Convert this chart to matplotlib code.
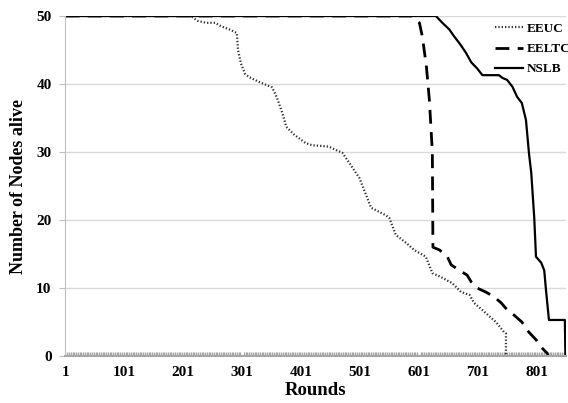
import numpy as np
import matplotlib.pyplot as plt

plt.rcParams['font.family'] = ['Liberation Serif', 'DejaVu Serif']
plt.rcParams['font.weight'] = 'bold'

# Data (rounds, nodes alive)
eeuc_x = [1, 214, 225, 240, 255, 265, 280, 292, 294, 299, 306, 313, 330, 352, 360, 369, 376, 390,
          409, 420, 448, 460, 471, 483, 500, 510, 520, 545, 551, 562, 580, 593, 613, 624, 641, 658,
          673, 687, 695, 715, 732, 746, 749, 749]
eeuc_y = [50, 50, 49.3, 49, 49, 48.5, 48, 47.5, 45, 43, 41.5, 41, 40.3, 39.5, 38, 35.8, 33.7, 32.5,
          31.3, 31, 30.8, 30.3, 29.9, 28.4, 26.2, 24, 21.8, 20.7, 20.3, 17.8, 16.6, 15.6, 14.6, 12.2, 11.5, 10.7,
          9.4, 9, 7.8, 6.3, 5, 3.5, 3.3, 0]

eeltc_x = [1, 590, 602, 607, 614, 619, 624, 625, 636, 649, 656, 670, 683, 690, 700, 715, 729, 741,
           751, 763, 776, 788, 800, 810, 819, 821]
eeltc_y = [50, 50, 49, 47, 42.5, 37.6, 30, 16, 15.6, 14.7, 13.4, 12.6, 11.9, 10.9, 10, 9.4, 8.7, 7.8,
           6.8, 6, 5, 3.5, 2.4, 1.2, 0.4, 0]

nslb_x = [1, 630, 641, 653, 661, 670, 681, 690, 700, 709, 737, 743, 751, 760, 768, 776, 783, 788,
          792, 797, 800, 809, 814, 817, 822, 849, 850]
nslb_y = [50, 50, 49, 48, 47, 46, 44.6, 43.2, 42.3, 41.3, 41.3, 40.9, 40.6, 39.6, 38.1, 37.2, 34.7, 29.9,
          26.9, 20.4, 14.6, 13.7, 12.6, 9.7, 5.3, 5.3, 0]

xticks = [1, 101, 201, 301, 401, 501, 601, 701, 801]
yticks = [0, 10, 20, 30, 40, 50]

fig = plt.figure(figsize=(5.68, 4.03), dpi=100)
ax = fig.add_axes([0.1153, 0.1166, 0.8812, 0.8437])

ax.plot(eeuc_x, eeuc_y, color='#333333', lw=1.6, linestyle=(0, (0.6, 0.9)), label='EEUC')
ax.plot(eeltc_x, eeltc_y, color='black', lw=2, linestyle=(0, (5, 3)), label='EELTC')
ax.plot(nslb_x, nslb_y, color='black', lw=1.6, label='NSLB')

ax.set_xlim(1, 851)
ax.set_ylim(0, 50)
ax.set_xticks(xticks)
ax.set_xticks(np.arange(1, 851, 3), minor=True)
ax.set_yticks(yticks)
ax.grid(axis='y', color='#d9d9d9', lw=1)
ax.set_axisbelow(True)

for s in ['top', 'right']:
    ax.spines[s].set_visible(False)
ax.spines['left'].set_color('#bfbfbf')
ax.spines['bottom'].set_color('#a6a6a6')
ax.spines['bottom'].set_linewidth(1.5)

ax.tick_params(axis='y', length=4, color='#bfbfbf', labelsize=11, pad=6)
ax.tick_params(axis='x', which='major', length=0, labelsize=11, pad=7)
ax.tick_params(axis='x', which='minor', length=3, width=1, color='#a6a6a6', direction='in')
for t in ax.get_xticklabels() + ax.get_yticklabels():
    t.set_fontweight('bold')

ax.set_xlabel('Rounds', fontsize=13.5, fontweight='bold', labelpad=2)
ax.set_ylabel('Number of Nodes alive', fontsize=13, fontweight='bold', labelpad=7)

ax.legend(loc='upper left', bbox_to_anchor=(0.858, 0.98), frameon=False, fontsize=9.5,
          handlelength=2.1, handletextpad=0.3, labelspacing=0.6, borderaxespad=0, borderpad=0)

fig.savefig('out.png', dpi=100)
